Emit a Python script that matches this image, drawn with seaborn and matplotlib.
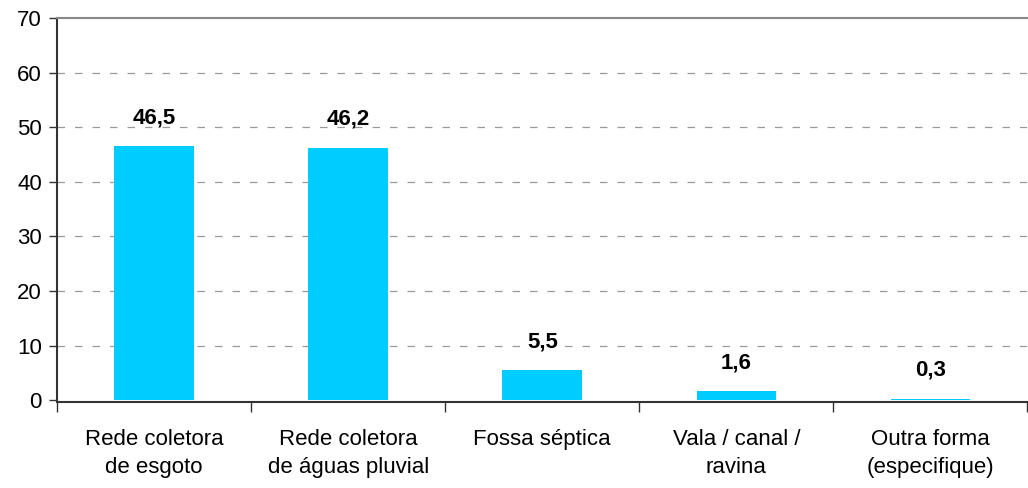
import matplotlib
matplotlib.use("Agg")
import matplotlib.pyplot as plt
import seaborn as sns
import pandas as pd
import numpy as np

categorias = ["Rede coletora\nde esgoto", "Rede coletora\nde águas pluvial", "Fossa séptica",
              "Vala / canal /\nravina", "Outra forma\n(especifique)"]
valores = [46.5, 46.2, 5.5, 1.6, 0.3]

sns.set_style("white")
plt.rcParams['font.family'] = ['Liberation Sans', 'DejaVu Sans']
plt.rcParams['text.color'] = 'black'
plt.rcParams['xtick.color'] = 'black'
plt.rcParams['ytick.color'] = 'black'

df = pd.DataFrame({"cat": categorias, "val": valores})

fig = plt.figure(figsize=(10.28, 4.88), dpi=100)
ax = fig.add_axes([0.0555, 0.18, 0.944, 0.783])
sns.barplot(data=df, x="cat", y="val", color="#00CCFF", saturation=1, width=0.41,
            ax=ax, zorder=3, linewidth=0)

ax.set_ylim(0, 70)
ax.set_xlim(-0.5, 4.5)
ax.set_yticks(np.arange(0, 71, 10))
ax.set_xlabel("")
ax.set_ylabel("")

for y in range(10, 70, 10):
    ax.axhline(y, color="#999999", lw=0.9, ls=(0, (6, 8)), zorder=0)

ax.spines["right"].set_visible(False)
ax.spines["top"].set_color("#888888")
ax.spines["top"].set_linewidth(1.5)
for s in ["left", "bottom"]:
    ax.spines[s].set_color("#333333")
    ax.spines[s].set_linewidth(1.5)
    ax.spines[s].set_zorder(2)
ax.spines["bottom"].set_position(("outward", 1))
for p in ax.patches:
    p.set_clip_on(False)

ax.tick_params(axis="y", which="major", length=6, width=1, color="#333333",
               labelsize=16, pad=5, left=True)
ax.tick_params(axis="x", which="major", length=0, labelsize=16, pad=20)
ax.set_xticks(np.arange(-0.5, 5, 1), minor=True)
ax.tick_params(axis="x", which="minor", length=7, width=1, color="#333333", bottom=True)
for t in ax.get_xticklabels():
    t.set_linespacing(1.4)

labels = [f"{v:.1f}".replace(".", ",") for v in valores]
ax.bar_label(ax.containers[0], labels=labels, padding=13, fontsize=16, fontweight="bold")

fig.savefig("out.png", dpi=100)
